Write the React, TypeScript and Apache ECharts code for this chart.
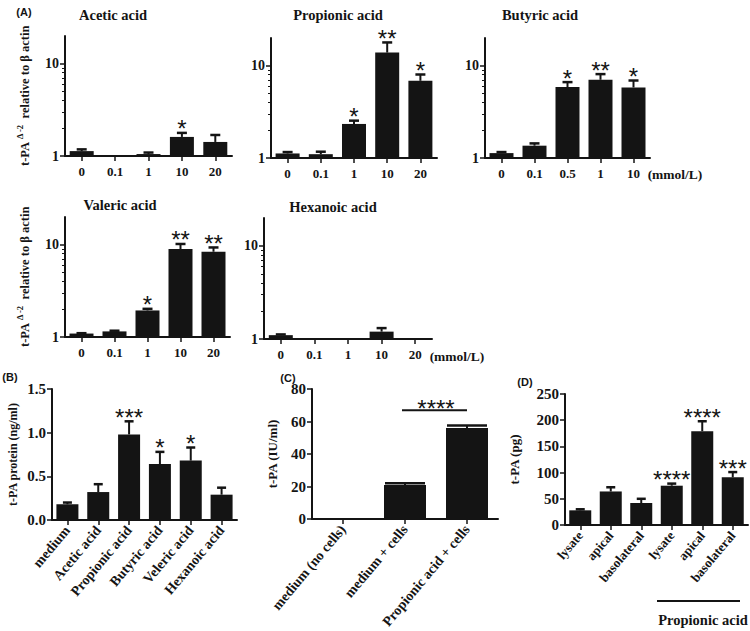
import React, { useEffect, useRef } from 'react';
import * as echarts from 'echarts';

// ---------- DATA ----------
const doseCategories = ['0', '0.1', '1', '10', '20'];
const butyricDoseCategories = ['0', '0.1', '0.5', '1', '10'];
const majorLogTicks = [1, 10];
const minorLogTicks = [2, 3, 4, 5, 6, 7, 8, 9];

const aceticMeans = [1.13, 1, 1.05, 1.61, 1.42];
const aceticUpper = [1.18, null, 1.09, 1.78, 1.69];
const aceticStars = ['', '', '', '*', ''];

const propionicMeans = [1.12, 1.1, 2.34, 13.9, 6.87];
const propionicUpper = [1.16, 1.17, 2.54, 17.9, 8.04];
const propionicStars = ['', '', '*', '**', '*'];

const butyricMeans = [1.13, 1.36, 5.87, 7.05, 5.82];
const butyricUpper = [1.16, 1.44, 6.65, 8.12, 6.92];
const butyricStars = ['', '', '*', '**', '*'];

const valericMeans = [1.09, 1.15, 1.94, 9.0, 8.4];
const valericUpper = [1.1, 1.17, 2.02, 10.2, 9.35];
const valericStars = ['', '', '*', '**', '**'];

const hexanoicMeans = [1.1, 1, 1, 1.2, 1];
const hexanoicUpper = [1.12, null, null, 1.31, null];
const hexanoicStars = ['', '', '', '', ''];

const proteinCategories = ['medium', 'Acetic acid', 'Propionic acid', 'Butyric acid', 'Veleric acid', 'Hexanoic acid'];
const proteinMeans = [0.18, 0.32, 0.98, 0.64, 0.68, 0.29];
const proteinUpper = [0.2, 0.41, 1.13, 0.78, 0.83, 0.37];
const proteinStars = ['', '', '***', '*', '*', ''];

const activityCategories = ['medium (no cells)', 'medium + cells', 'Propionic acid + cells'];
const activityMeans = [0, 21, 56];
const activityUpper = [null, 22, 57.5];
const activityStars = ['', '', ''];
const activitySigFrom = 1;
const activitySigTo = 2;
const activitySigLevel = 67;
const activitySigStars = '****';

const transwellCategories = ['lysate', 'apical', 'basolateral', 'lysate', 'apical', 'basolateral'];
const transwellMeans = [28, 64, 42, 75, 179, 91];
const transwellUpper = [30, 72, 50, 79, 198, 101];
const transwellStars = ['', '', '', '****', '****', '***'];

const panelTitles = ['Acetic acid', 'Propionic acid', 'Butyric acid', 'Valeric acid', 'Hexanoic acid'];
const panelLetters = ['(A)', '(B)', '(C)', '(D)'];
const doseUnit = '(mmol/L)';
const groupLabel = 'Propionic acid';

// ---------- STYLE ----------
const SERIF = "'Liberation Serif', 'Times New Roman', serif";
const SANS = "'Liberation Sans', Arial, sans-serif";
const INK = '#141414';
const STAR_SIZE = 24;

function catAxis(gridIndex: number, data: string[], fontSize: number, rotate: number, margin: number) {
  return {
    type: 'category',
    gridIndex,
    data,
    axisLine: { show: true, onZero: false, lineStyle: { color: INK, width: 2 } },
    axisTick: { show: true, alignWithLabel: true, length: 5, lineStyle: { color: INK, width: 1.5 } },
    axisLabel: {
      interval: 0,
      color: INK,
      fontFamily: SERIF,
      fontWeight: 'bold',
      fontSize,
      rotate,
      margin,
    },
    splitLine: { show: false },
  };
}

function errorSeries(
  xAxisIndex: number,
  yAxisIndex: number,
  means: number[],
  upper: (number | null)[],
  stars: string[],
  capW: number,
) {
  const data = means.map((m, i) => [i, m, upper[i] == null ? m : (upper[i] as number)]);
  return {
    type: 'custom',
    xAxisIndex,
    yAxisIndex,
    z: 5,
    silent: true,
    data,
    encode: { x: 0, y: [1, 2] },
    renderItem: (params: any, api: any) => {
      const idx = params.dataIndex;
      const i = api.value(0);
      const m = api.value(1);
      const u = api.value(2);
      const b = api.coord([i, m]);
      const t = api.coord([i, u]);
      const children: any[] = [];
      if (upper[idx] != null && u > m) {
        children.push({
          type: 'line',
          shape: { x1: b[0], y1: b[1], x2: t[0], y2: t[1] },
          style: { stroke: INK, lineWidth: 2 },
        });
        children.push({
          type: 'line',
          shape: { x1: t[0] - capW / 2, y1: t[1], x2: t[0] + capW / 2, y2: t[1] },
          style: { stroke: INK, lineWidth: 2.5 },
        });
      }
      if (stars[idx]) {
        children.push({
          type: 'text',
          style: {
            text: stars[idx],
            x: t[0],
            y: t[1] - 4,
            align: 'center',
            verticalAlign: 'middle',
            fontSize: STAR_SIZE,
            fontFamily: SANS,
            fill: INK,
          },
        });
      }
      return { type: 'group', children };
    },
  };
}

export default function App() {
  const ref = useRef<HTMLDivElement>(null);

  useEffect(() => {
    if (!ref.current) return;
    const chart = echarts.init(ref.current, null, { renderer: 'svg' });

    const far = { left: -5000, right: -5000, top: -5000, bottom: -5000 };
    const grids = [
      { left: 65, top: 36, width: 167, height: 120 },
      { left: 271, top: 38, width: 166, height: 120 },
      { left: 485, top: 38, width: 165, height: 120 },
      { left: 65, top: 217, width: 165, height: 120 },
      { left: 264, top: 218, width: 168, height: 121 },
      { left: 52, top: 389, width: 185, height: 131, outerBoundsMode: 'none' },
      { left: 312, top: 389, width: 186, height: 130, outerBounds: far },
      { left: 565, top: 394, right: 2, bottom: 106 },
    ];

    const logPanels = [
      { cats: doseCategories, means: aceticMeans, upper: aceticUpper, stars: aceticStars, named: true },
      { cats: doseCategories, means: propionicMeans, upper: propionicUpper, stars: propionicStars, named: false },
      { cats: butyricDoseCategories, means: butyricMeans, upper: butyricUpper, stars: butyricStars, named: false },
      { cats: doseCategories, means: valericMeans, upper: valericUpper, stars: valericStars, named: true },
      { cats: doseCategories, means: hexanoicMeans, upper: hexanoicUpper, stars: hexanoicStars, named: false },
    ];

    const xAxes: any[] = [];
    const yAxes: any[] = [];
    const series: any[] = [];

    const yLabelStyle = (fontSize: number, margin: number) => ({
      color: INK,
      fontFamily: SERIF,
      fontWeight: 'bold',
      fontSize,
      margin,
    });

    logPanels.forEach((p, g) => {
      xAxes.push(catAxis(g, p.cats, 13, 0, 9));
      const yMain = yAxes.length;
      yAxes.push({
        type: 'log',
        logBase: 10,
        gridIndex: g,
        position: 'left',
        min: 1,
        max: 20,
        axisLine: { show: true, lineStyle: { color: INK, width: 2 } },
        axisTick: { show: true, length: 5, customValues: majorLogTicks, lineStyle: { color: INK, width: 1.5 } },
        axisLabel: { ...yLabelStyle(14, 6), customValues: majorLogTicks },
        splitLine: { show: false },
        ...(p.named
          ? {
              name: '{m|t-PA }{s|Δ -2}{m|  relative to β actin}',
              nameLocation: 'middle',
              nameGap: 30,
              nameTextStyle: {
                rich: {
                  m: { fontFamily: SERIF, fontWeight: 'bold', fontSize: 12.5, color: INK, lineHeight: 20 },
                  s: { fontFamily: SERIF, fontWeight: 'bold', fontSize: 8.5, color: INK, lineHeight: 10, verticalAlign: 'top' },
                },
              },
            }
          : {}),
      });
      yAxes.push({
        type: 'log',
        logBase: 10,
        gridIndex: g,
        position: 'left',
        min: 1,
        max: 20,
        axisLine: { show: false },
        axisLabel: { show: false },
        splitLine: { show: false },
        axisTick: { show: true, length: 3, customValues: minorLogTicks, lineStyle: { color: INK, width: 1 } },
      });
      series.push({
        type: 'bar',
        xAxisIndex: g,
        yAxisIndex: yMain,
        data: p.means,
        barWidth: 24,
        itemStyle: { color: INK },
        silent: true,
      });
      series.push(errorSeries(g, yMain, p.means, p.upper, p.stars, 10));
    });

    // Panel B
    xAxes.push(catAxis(5, proteinCategories, 14, 50, 8));
    const yB = yAxes.length;
    yAxes.push({
      type: 'value',
      gridIndex: 5,
      min: 0,
      max: 1.5,
      interval: 0.5,
      axisLine: { show: true, lineStyle: { color: INK, width: 2 } },
      axisTick: { show: true, length: 5, lineStyle: { color: INK, width: 1.5 } },
      axisLabel: { ...yLabelStyle(15, 6), formatter: (v: number) => v.toFixed(1) },
      splitLine: { show: false },
      name: 't-PA protein (ng/ml)',
      nameLocation: 'middle',
      nameGap: 33,
      nameTextStyle: { fontFamily: SERIF, fontWeight: 'bold', fontSize: 12, color: INK },
    });
    series.push({ type: 'bar', xAxisIndex: 5, yAxisIndex: yB, data: proteinMeans, barWidth: 22, itemStyle: { color: INK }, silent: true });
    series.push(errorSeries(5, yB, proteinMeans, proteinUpper, proteinStars, 9));

    // Panel C
    xAxes.push(catAxis(6, activityCategories, 14, 50, 8));
    const yC = yAxes.length;
    yAxes.push({
      type: 'value',
      gridIndex: 6,
      min: 0,
      max: 80,
      interval: 20,
      axisLine: { show: true, lineStyle: { color: INK, width: 2 } },
      axisTick: { show: true, length: 5, lineStyle: { color: INK, width: 1.5 } },
      axisLabel: yLabelStyle(15, 6),
      splitLine: { show: false },
      name: 't-PA (IU/ml)',
      nameLocation: 'middle',
      nameGap: 33,
      nameTextStyle: { fontFamily: SERIF, fontWeight: 'bold', fontSize: 13, color: INK },
    });
    series.push({ type: 'bar', xAxisIndex: 6, yAxisIndex: yC, data: activityMeans, barWidth: 42, itemStyle: { color: INK }, silent: true });
    series.push(errorSeries(6, yC, activityMeans, activityUpper, activityStars, 40));
    series.push({
      type: 'custom',
      xAxisIndex: 6,
      yAxisIndex: yC,
      z: 5,
      silent: true,
      data: [[activitySigFrom, activitySigTo, activitySigLevel]],
      encode: { x: [0, 1], y: 2 },
      renderItem: (params: any, api: any) => {
        const a = api.coord([api.value(0), api.value(2)]);
        const b = api.coord([api.value(1), api.value(2)]);
        return {
          type: 'group',
          children: [
            { type: 'line', shape: { x1: a[0] - 3, y1: a[1], x2: b[0], y2: b[1] }, style: { stroke: INK, lineWidth: 2 } },
            {
              type: 'text',
              style: {
                text: activitySigStars,
                x: (a[0] + b[0]) / 2,
                y: a[1] - 2,
                align: 'center',
                verticalAlign: 'middle',
                fontSize: STAR_SIZE,
                fontFamily: SANS,
                fill: INK,
              },
            },
          ],
        };
      },
    });

    // Panel D
    xAxes.push(catAxis(7, transwellCategories, 13, 50, 8));
    const yD = yAxes.length;
    yAxes.push({
      type: 'value',
      gridIndex: 7,
      min: 0,
      max: 250,
      interval: 50,
      axisLine: { show: true, lineStyle: { color: INK, width: 2 } },
      axisTick: { show: true, length: 5, lineStyle: { color: INK, width: 1.5 } },
      axisLabel: yLabelStyle(15, 6),
      splitLine: { show: false },
      name: 't-PA (pg)',
      nameLocation: 'middle',
      nameGap: 44,
      nameTextStyle: { fontFamily: SERIF, fontWeight: 'bold', fontSize: 13, color: INK },
    });
    series.push({ type: 'bar', xAxisIndex: 7, yAxisIndex: yD, data: transwellMeans, barWidth: 22, itemStyle: { color: INK }, silent: true });
    series.push(errorSeries(7, yD, transwellMeans, transwellUpper, transwellStars, 9));

    const titlePos = [
      [113, 15],
      [338, 15],
      [540, 15],
      [120, 205],
      [333, 207],
    ];
    const letterPos = [
      [24, 12],
      [10, 377],
      [288, 378],
      [525, 382],
    ];

    const graphics: any[] = [];
    panelTitles.forEach((t, i) => {
      graphics.push({
        type: 'text',
        x: titlePos[i][0],
        y: titlePos[i][1],
        style: { text: t, align: 'center', verticalAlign: 'middle', fontFamily: SERIF, fontWeight: 'bold', fontSize: 14.5, fill: INK },
      });
    });
    panelLetters.forEach((t, i) => {
      graphics.push({
        type: 'text',
        x: letterPos[i][0],
        y: letterPos[i][1],
        style: { text: t, align: 'center', verticalAlign: 'middle', fontFamily: SANS, fontWeight: 'bold', fontSize: 11, fill: INK },
      });
    });
    [[675, 174], [457, 356]].forEach(([x, y]) => {
      graphics.push({
        type: 'text',
        x,
        y,
        style: { text: doseUnit, align: 'center', verticalAlign: 'middle', fontFamily: SERIF, fontWeight: 'bold', fontSize: 13.5, fill: INK },
      });
    });
    graphics.push({ type: 'line', shape: { x1: 657, y1: 601, x2: 740, y2: 601 }, style: { stroke: INK, lineWidth: 2 } });
    graphics.push({
      type: 'text',
      x: 703,
      y: 620,
      style: { text: groupLabel, align: 'center', verticalAlign: 'middle', fontFamily: SERIF, fontWeight: 'bold', fontSize: 14.5, fill: INK },
    });

    chart.setOption({
      animation: false,
      backgroundColor: '#ffffff',
      grid: grids,
      xAxis: xAxes,
      yAxis: yAxes,
      series,
      graphic: { elements: graphics },
    });

    return () => chart.dispose();
  }, []);

  return <div ref={ref} style={{ position: 'fixed', left: 0, top: 0, width: 750, height: 631 }} />;
}
